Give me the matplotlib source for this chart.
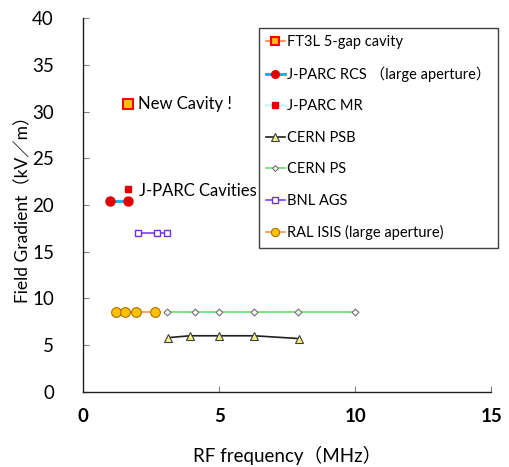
import matplotlib
matplotlib.use("Agg")
import matplotlib.pyplot as plt

plt.rcParams['font.family'] = ['Lato', 'Noto Sans CJK JP', 'DejaVu Sans']

ft3l_x = [1.65]
ft3l_y = [30.8]
rcs_x = [0.97, 1.65]
rcs_y = [20.4, 20.4]
mr_x = [1.65]
mr_y = [21.7]
psb_x = [3.13, 3.93, 5.0, 6.29, 7.94]
psb_y = [5.8, 6.0, 6.0, 6.0, 5.7]
ps_x = [3.1, 4.1, 5.0, 6.3, 7.9, 10.0]
ps_y = [8.5, 8.5, 8.5, 8.5, 8.5, 8.5]
ags_x = [2.0, 2.7, 3.1]
ags_y = [17.0, 17.0, 17.0]
isis_x = [1.2, 1.55, 1.95, 2.65]
isis_y = [8.5, 8.5, 8.5, 8.5]

fig = plt.figure(figsize=(5.1, 4.67), dpi=100)
ax = fig.add_axes([0.163, 0.161, 0.8, 0.8])

ax.plot(isis_x, isis_y, color='#f79646', lw=1.2, marker='o', ms=7,
        mfc='#ffc000', mec='#b07000', mew=0.8, label='RAL ISIS (large aperture)')
ax.plot(ps_x, ps_y, color='#66dd66', lw=1.2, marker='D', ms=3.5,
        mfc='white', mec='#707070', mew=0.8, label='CERN PS')
ax.plot(psb_x, psb_y, color='#202020', lw=1.2, marker='^', ms=6,
        mfc='#f0f080', mec='#404040', mew=0.8, label='CERN PSB')
ax.plot(ags_x, ags_y, color='#8040ff', lw=1.2, marker='s', ms=5,
        mfc='white', mec='#7030e0', mew=1.0, label='BNL AGS')
ax.plot(rcs_x, rcs_y, color='#00b0f0', lw=2.0, marker='o', ms=6.5,
        mfc='#e00000', mec='#e00000', label='J-PARC RCS （large aperture）')
ax.plot(mr_x, mr_y, color='#ccf5ff', lw=2.0, marker='s', ms=5,
        mfc='#e00000', mec='#e00000', label='J-PARC MR')
ax.plot(ft3l_x, ft3l_y, color='#ff8040', lw=1.2, marker='s', ms=7,
        mfc='#ffc000', mec='#ff0000', mew=1.5, label='FT3L 5-gap cavity')

ax.text(2.0, 30.8, 'New Cavity !', fontsize=12, va='center', ha='left')
ax.text(2.05, 21.5, 'J-PARC Cavities', fontsize=12, va='center', ha='left')

ax.set_xlim(0, 15)
ax.set_ylim(0, 40)
ax.set_xticks([0, 5, 10, 15])
ax.set_yticks(range(0, 41, 5))
ax.tick_params(direction='in', color='#808080', length=4)
ax.tick_params(axis='y', labelsize=13.5, pad=21)
ax.tick_params(axis='x', labelsize=13.5, pad=12)
for t in ax.get_xticklabels():
    t.set_fontweight('bold')
for s in ['top', 'right']:
    ax.spines[s].set_visible(False)
for s in ['left', 'bottom']:
    ax.spines[s].set_color('#202020')
    ax.spines[s].set_linewidth(1.0)

ax.set_xlabel('RF frequency（MHz）', fontsize=13.5, va='center')
ax.xaxis.set_label_coords(0.5, -0.171)
ax.set_ylabel('Field Gradient（kV／m）', fontsize=12.5, va='center')
ax.yaxis.set_label_coords(-0.147, 0.5)

handles, labels = ax.get_legend_handles_labels()
order = ['FT3L 5-gap cavity', 'J-PARC RCS （large aperture）', 'J-PARC MR',
         'CERN PSB', 'CERN PS', 'BNL AGS', 'RAL ISIS (large aperture)']
hmap = dict(zip(labels, handles))
leg = ax.legend([hmap[o] for o in order], order, loc='upper left',
                bbox_to_anchor=(0.43, 0.975), fontsize=10.5, frameon=True,
                fancybox=False, edgecolor='#404040', framealpha=1,
                handlelength=1.3, handletextpad=0.15, labelspacing=1.2,
                borderpad=0.5, borderaxespad=0, markerscale=0.85)
leg.get_frame().set_linewidth(1.0)

fig.savefig('out.png', dpi=100)
